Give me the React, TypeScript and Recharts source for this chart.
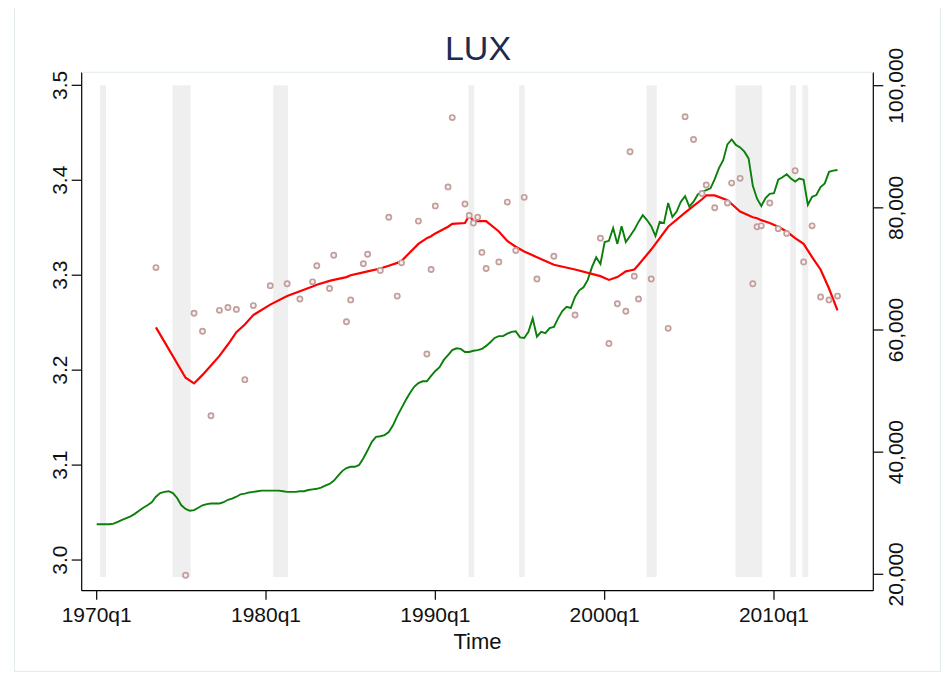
import React from "react";
import { ComposedChart, Line, Scatter, XAxis, YAxis, ReferenceArea } from "recharts";

// quarter index 0 = 1970q1
const START_YEAR = 1970;
const xTicks = [0, 40, 80, 120, 160];
const leftTicks = [3.0, 3.1, 3.2, 3.3, 3.4, 3.5];
const rightTicks = [20000, 40000, 60000, 80000, 100000];

// green series (right axis), one value per quarter 1970q1..2013q4
const greenSeries = [
  28200, 28200, 28200, 28200, 28300, 28600, 28900, 29200, 29500, 29900,
  30400, 30900, 31300, 31800, 32700, 33300, 33500, 33600, 33300, 32500,
  31300, 30700, 30400, 30500, 30900, 31300, 31500, 31600, 31600, 31600,
  31800, 32200, 32400, 32700, 33100, 33200, 33400, 33500, 33600, 33700,
  33700, 33700, 33700, 33700, 33600, 33500, 33500, 33500, 33600, 33600,
  33800, 33900, 34000, 34200, 34500, 34800, 35300, 36100, 36900, 37400,
  37600, 37600, 37900, 39000, 40300, 41700, 42500, 42600, 42800, 43300,
  44400, 45900, 47200, 48500, 49700, 50700, 51300, 51600, 51600, 52500,
  53300, 53900, 55100, 55900, 56700, 57000, 56900, 56400, 56400, 56600,
  56700, 56900, 57400, 58000, 58700, 59000, 59000, 59400, 59700, 59800,
  58800, 58700, 59700, 61900, 58900, 59700, 59500, 60300, 60500, 61900,
  63100, 63800, 63600, 65400, 66500, 67000, 68200, 70300, 71900, 70800,
  74400, 74600, 76700, 74100, 77000, 74400, 75400, 76400, 77700, 78800,
  78000, 77000, 75400, 77700, 77500, 80800, 78500, 79400, 81000, 81900,
  80200, 81000, 82200, 82600, 82900, 83200, 84700, 86500, 87800, 90400,
  91200, 90300, 89900, 89200, 88100, 83600, 81500, 80300, 81600, 82300,
  82400, 84600, 85000, 85500, 84800, 84300, 84800, 84600, 80500, 81800,
  82100, 83400, 84000, 85900, 86100, 86200,
];

// scattered observations (left axis) and their fitted red curve
const obsQuarter = [
  14, 21, 23, 25, 27, 29, 31, 33, 35, 37,
  41, 45, 48, 51, 52, 55, 56, 59, 60, 63,
  64, 67, 69, 71, 72, 76, 78, 79, 80, 83,
  84, 87, 88, 89, 90, 91, 92, 95, 97, 99,
  101, 104, 108, 113, 119, 121, 123, 125, 126, 127,
  128, 131, 135, 139, 141, 143, 144, 146, 149, 150,
  152, 155, 156, 157, 159, 161, 163, 165, 167, 169,
  171, 173, 175,
];
const obsValue = [
  3.308, 2.984, 3.26, 3.241, 3.152, 3.263, 3.266, 3.264, 3.19, 3.268,
  3.289, 3.291, 3.275, 3.293, 3.31, 3.286, 3.321, 3.251, 3.274, 3.312,
  3.322, 3.305, 3.361, 3.278, 3.313, 3.357, 3.217, 3.306, 3.373, 3.393,
  3.466, 3.375, 3.363, 3.355, 3.361, 3.324, 3.307, 3.314, 3.377, 3.326,
  3.382, 3.296, 3.32, 3.258, 3.339, 3.228, 3.27, 3.262, 3.43, 3.299,
  3.275, 3.296, 3.244, 3.467, 3.443, 3.386, 3.395, 3.371, 3.376, 3.397,
  3.402, 3.291, 3.351, 3.352, 3.376, 3.349, 3.344, 3.41, 3.314, 3.352,
  3.277, 3.274, 3.278,
];
const fitValue = [
  3.245, 3.192, 3.186, 3.195, 3.205, 3.215, 3.227, 3.24, 3.248, 3.258,
  3.269, 3.278, 3.283, 3.288, 3.29, 3.294, 3.295, 3.298, 3.3, 3.303,
  3.304, 3.307, 3.31, 3.313, 3.315, 3.333, 3.339, 3.341, 3.344, 3.351,
  3.354, 3.355, 3.363, 3.357, 3.357, 3.357, 3.357, 3.346, 3.336, 3.33,
  3.325, 3.319, 3.311, 3.306, 3.299, 3.295, 3.298, 3.304, 3.305, 3.306,
  3.311, 3.327, 3.351, 3.366, 3.373, 3.38, 3.384, 3.384, 3.379, 3.375,
  3.367, 3.361, 3.36, 3.358, 3.355, 3.351, 3.346, 3.339, 3.333, 3.319,
  3.306, 3.286, 3.263,
];

// recession bands, in quarter index
const bandStart = [0.8, 17.9, 41.7, 87.8, 99.8, 129.9, 150.9, 163.8, 166.7];
const bandEnd = [2.2, 22.2, 45.2, 89.2, 101.1, 132.3, 157.2, 165.2, 168.1];
const bandLow = 2.982;
const bandHigh = 3.5;

const fitByQuarter: Record<number, number> = {};
obsQuarter.forEach((q, i) => {
  fitByQuarter[q] = fitValue[i];
});
const table = greenSeries.map((g, q) => ({
  q,
  green: g,
  fit: fitByQuarter[q] !== undefined ? fitByQuarter[q] : null,
}));
const dots = obsQuarter.map((q, i) => ({ q, obs: obsValue[i] }));

const FONT = "'Liberation Sans', Arial, Helvetica, sans-serif";

const fmtQ = (v: number) => `${START_YEAR + Math.round(v / 4)}q1`;
const fmtThousands = (v: number) => v.toLocaleString("en-US");

const XTick = (props: any) => {
  const { x, payload } = props;
  return (
    <text x={x} y={621.7} textAnchor="middle" fontFamily={FONT} fontSize={21} fill="#111">
      {fmtQ(payload.value)}
    </text>
  );
};

const LeftTick = (props: any) => {
  const { y, payload } = props;
  const bx = 66.7;
  return (
    <text
      x={bx}
      y={y}
      transform={`rotate(-90, ${bx}, ${y})`}
      textAnchor="middle"
      fontFamily={FONT}
      fontSize={21}
      fill="#111"
    >
      {payload.value.toFixed(1)}
    </text>
  );
};

const RightTick = (props: any) => {
  const { y, payload } = props;
  const bx = 903.5;
  return (
    <text
      x={bx}
      y={y}
      transform={`rotate(-90, ${bx}, ${y})`}
      textAnchor="middle"
      fontFamily={FONT}
      fontSize={21}
      fill="#111"
    >
      {fmtThousands(payload.value)}
    </text>
  );
};

const Ring = (props: any) => {
  const { cx, cy } = props;
  if (cx == null || cy == null) return null;
  return <circle cx={cx} cy={cy} r={2.6} fill="#f6f0f0" stroke="#c29f9d" strokeWidth={1.7} />;
};

export default function App() {
  return (
    <div
      style={{
        position: "relative",
        marginLeft: -8,
        marginTop: -8,
        width: 950,
        height: 679,
        background: "#ffffff",
      }}
    >
      <ComposedChart
        width={950}
        height={679}
        data={table}
        margin={{ top: 72.3, right: 0, bottom: 28.3, left: 0 }}
      >
        <XAxis
          dataKey="q"
          type="number"
          domain={[-3.54, 183.46]}
          allowDataOverflow
          ticks={xTicks}
          tick={<XTick />}
          tickSize={9}
          height={60}
          axisLine={{ stroke: "#000", strokeWidth: 1.2 }}
          tickLine={{ stroke: "#000", strokeWidth: 1.2 }}
          interval={0}
        />
        <YAxis
          yAxisId="l"
          orientation="left"
          type="number"
          domain={[2.9677, 3.5137]}
          allowDataOverflow
          ticks={leftTicks}
          tick={<LeftTick />}
          tickSize={10}
          width={81.7}
          axisLine={{ stroke: "#000", strokeWidth: 1.2 }}
          tickLine={{ stroke: "#000", strokeWidth: 1.2 }}
          interval={0}
        />
        <YAxis
          yAxisId="r"
          orientation="right"
          type="number"
          domain={[17315, 102194]}
          allowDataOverflow
          ticks={rightTicks}
          tick={<RightTick />}
          tickSize={10}
          width={76.7}
          axisLine={{ stroke: "#000", strokeWidth: 1.2 }}
          tickLine={{ stroke: "#000", strokeWidth: 1.2 }}
          interval={0}
        />
        {bandStart.map((s, i) => (
          <ReferenceArea
            key={`band-${i}`}
            yAxisId="l"
            x1={s}
            x2={bandEnd[i]}
            y1={bandLow}
            y2={bandHigh}
            fill="#efefef"
            fillOpacity={1}
            stroke="none"
            ifOverflow="hidden"
          />
        ))}
        <Scatter
          yAxisId="l"
          data={dots}
          dataKey="obs"
          shape={<Ring />}
          isAnimationActive={false}
        />
        <Line
          yAxisId="r"
          dataKey="green"
          type="linear"
          stroke="#0a7f0a"
          strokeWidth={1.9}
          dot={false}
          activeDot={false}
          isAnimationActive={false}
        />
        <Line
          yAxisId="l"
          dataKey="fit"
          type="linear"
          stroke="#ff0000"
          strokeWidth={2.2}
          dot={false}
          activeDot={false}
          connectNulls
          isAnimationActive={false}
        />
      </ComposedChart>
      <svg
        width={950}
        height={679}
        style={{ position: "absolute", left: 0, top: 0, pointerEvents: "none" }}
      >
        <rect x={14.5} y={7.5} width={926} height={664} fill="none" stroke="#e4ebeb" strokeWidth={1} />
        <line x1={81.7} y1={72.3} x2={873.3} y2={72.3} stroke="#e6eeee" strokeWidth={1.2} />
        <text x={478} y={60} textAnchor="middle" fontFamily={FONT} fontSize={34} fill="#1c2b50">
          LUX
        </text>
        <text x={477.5} y={649.3} textAnchor="middle" fontFamily={FONT} fontSize={22} fill="#111">
          Time
        </text>
      </svg>
    </div>
  );
}
